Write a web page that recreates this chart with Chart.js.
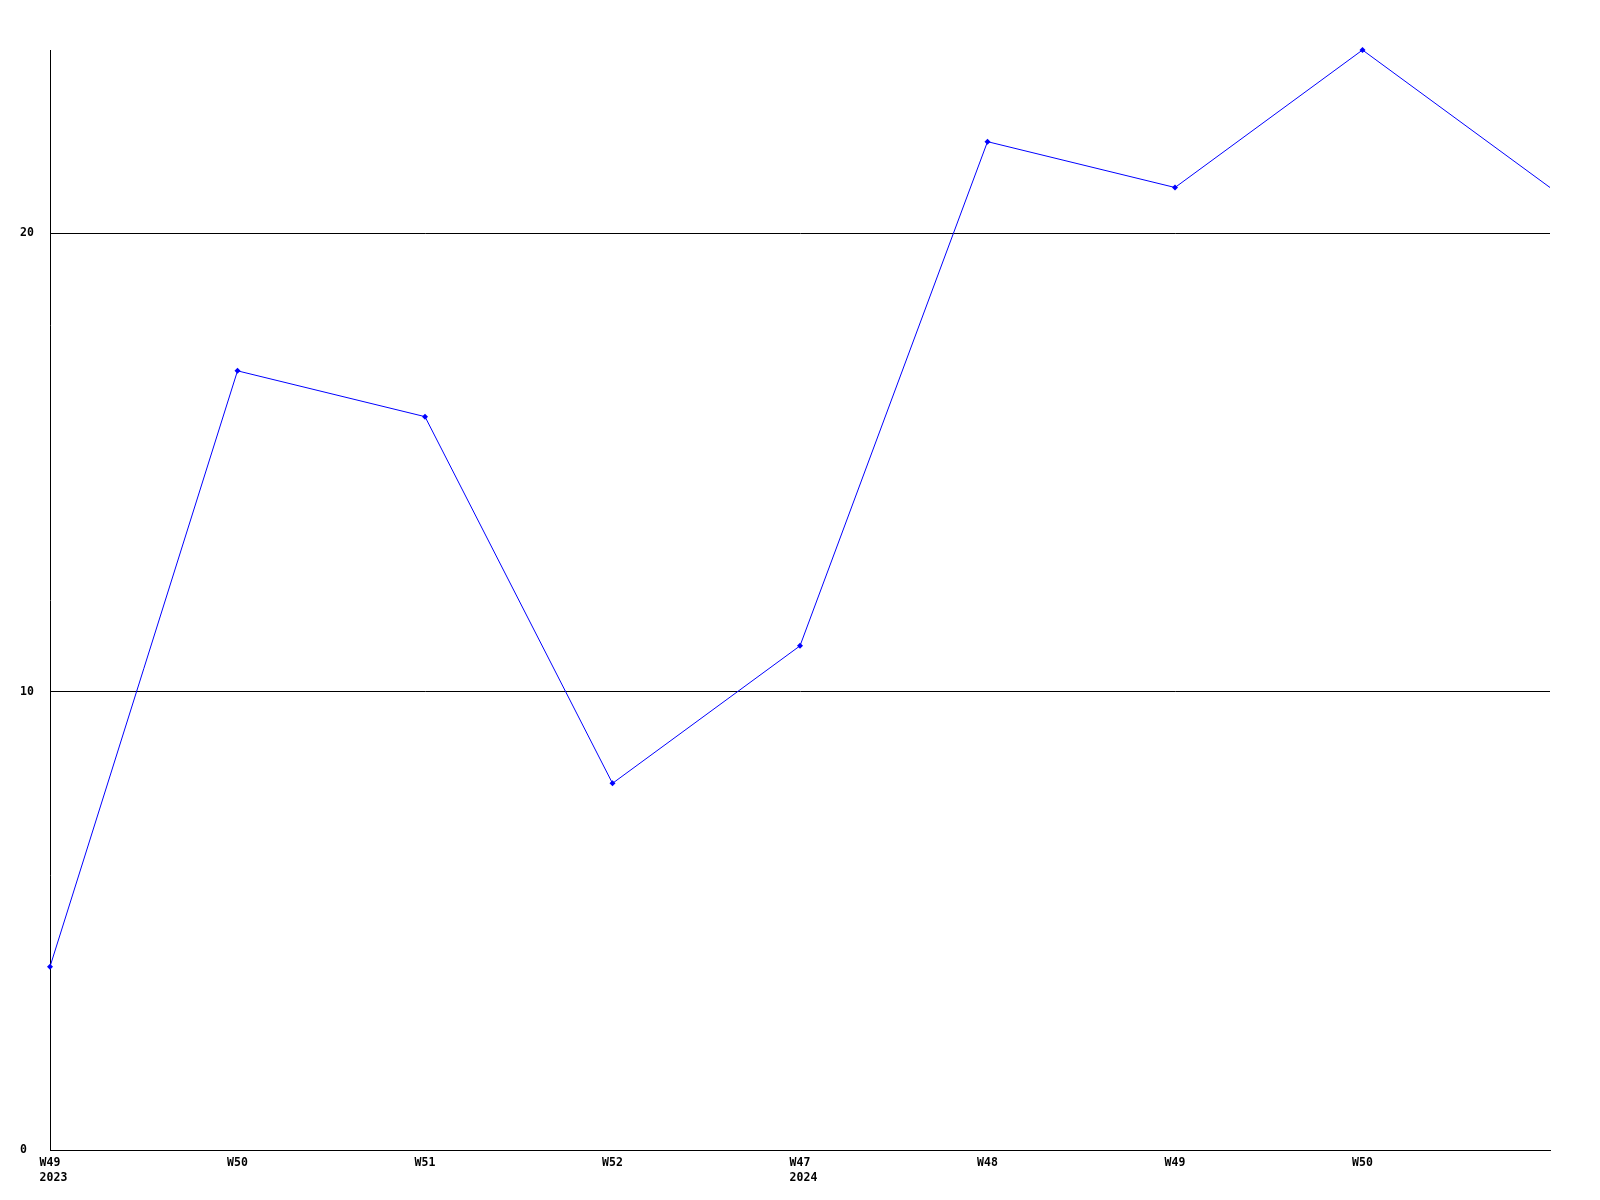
<!DOCTYPE html>
<html>
<head>
<meta charset="utf-8">
<title>Weekly count</title>
<script src="https://cdn.jsdelivr.net/npm/chart.js@4/dist/chart.umd.min.js"></script>
<style>
    html, body { margin: 0; padding: 0; background: #ffffff; }
    canvas { display: block; }
</style>
</head>
<body>
<canvas id="weeklyChart" width="1600" height="1200"></canvas>
<script>
// --- Data ---
const weekLabels = ["W49", "W50", "W51", "W52", "W47", "W48", "W49", "W50", "W51"];
const yearLabels = ["2023", "", "", "", "2024", "", "", "", ""];
const weeklyValues = [4, 17, 16, 8, 11, 22, 21, 24, 21];
const yTicks = [0, 10, 20];
const yMax = 24;

document.addEventListener("DOMContentLoaded", () => {
    const tickFont = { family: "'DejaVu Sans Mono', 'Liberation Mono', monospace", size: 11.5, weight: "bold", lineHeight: 1.3 };

    // multi-line label: week on top, year below (leading space keeps the year lined up with the week)
    const labels = weekLabels.map((w, i) => (yearLabels[i] ? [w, " " + yearLabels[i]] : w));

    const ctx = document.getElementById("weeklyChart").getContext("2d");
    new Chart(ctx, {
        type: "line",
        data: {
            labels: labels,
            datasets: [
                {
                    data: weeklyValues,
                    borderColor: "#0000ff",
                    backgroundColor: "#0000ff",
                    borderWidth: 1,
                    tension: 0,
                    fill: false,
                    clip: false,
                    pointStyle: "rectRot",
                    pointRadius: weeklyValues.map((v, i) => (i === weeklyValues.length - 1 ? 0 : 3)),
                    pointBorderWidth: 0,
                },
            ],
        },
        options: {
            responsive: false,
            animation: false,
            layout: { padding: { top: 50, right: 50, left: 20, bottom: 0 } },
            plugins: {
                legend: { display: false },
                tooltip: { enabled: false },
            },
            scales: {
                x: {
                    type: "category",
                    offset: false,
                    grid: { display: false, drawTicks: false, tickLength: 0 },
                    border: { display: true, color: "#000000", width: 1 },
                    ticks: {
                        color: "#000000",
                        font: tickFont,
                        padding: 6,
                        maxRotation: 0,
                        autoSkip: false,
                        callback: function (value, index) {
                            return index === weekLabels.length - 1 ? "" : this.getLabelForValue(value);
                        },
                    },
                    afterFit: (scale) => { scale.height = 50; },
                },
                y: {
                    min: 0,
                    max: yMax,
                    grid: { color: "#000000", lineWidth: 1, drawTicks: false, tickLength: 0 },
                    border: { display: true, color: "#000000", width: 1 },
                    afterBuildTicks: (scale) => { scale.ticks = yTicks.map((v) => ({ value: v })); },
                    ticks: {
                        color: "#000000",
                        font: tickFont,
                        crossAlign: "far",
                    },
                    afterFit: (scale) => { scale.width = 30; },
                },
            },
        },
    });
});
</script>
</body>
</html>
